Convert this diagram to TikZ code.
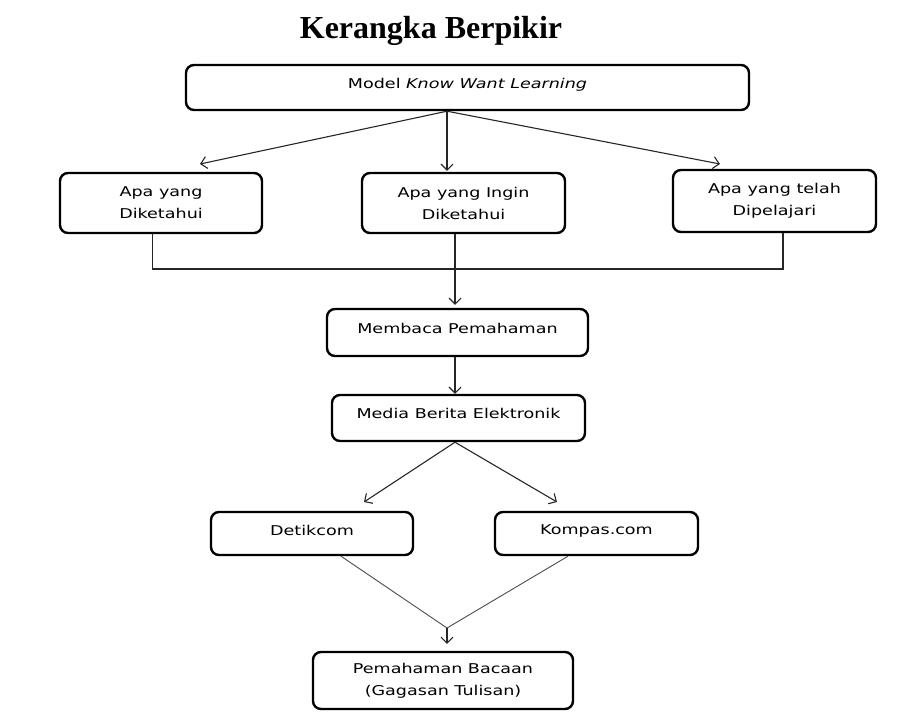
\documentclass[tikz,border=0pt]{standalone}
\usepackage{fontspec}
\setmainfont{Liberation Serif}
\newfontfamily\isifont[FakeStretch=1.3]{DejaVu Sans}
\usetikzlibrary{arrows.meta}
\tikzset{
  kotak/.style={draw, line width=2.4pt, rounded corners=8pt, align=center, inner sep=2pt,
    font=\isifont\fontsize{13.5}{22}\selectfont},
  panah/.style={-{Straight Barb[length=6pt,width=12pt]}, line width=1.1pt, draw=black!85},
  garis/.style={line width=1.1pt, draw=black!85}
}
\begin{document}
\begin{tikzpicture}[x=1pt,y=-1pt]
      \useasboundingbox (0,0) rectangle (923,716);
      \node[font=\bfseries\fontsize{32}{38}\selectfont] (judul) at (431,31){Kerangka Berpikir};

      \node[kotak, minimum width=563, minimum height=45, text depth=8pt] (model) at (467.5,87.5){Model \textit{Know Want Learning}};
      \node[kotak, minimum width=202, minimum height=60] (tahu) at (161,203){Apa yang\\Diketahui};
      \node[kotak, minimum width=203, minimum height=60] (ingin) at (463.5,203){Apa yang Ingin\\Diketahui};
      \node[kotak, minimum width=203, minimum height=62] (telah) at (774.5,201){Apa yang telah\\Dipelajari};
      \node[kotak, minimum width=261, minimum height=47, text depth=8pt] (membaca) at (457.5,332.5){Membaca Pemahaman};
      \node[kotak, minimum width=253, minimum height=46, text depth=10pt] (media) at (458.5,418){Media Berita Elektronik};
      \node[kotak, minimum width=202, minimum height=43, text depth=7pt] (detik) at (312,533.5){Detikcom};
      \node[kotak, minimum width=203, minimum height=43, text depth=7pt] (kompas) at (596.5,533.5){Kompas.com};
      \node[kotak, minimum width=260, minimum height=57] (bacaan) at (443,680.5){Pemahaman Bacaan\\(Gagasan Tulisan)};

      \coordinate (ujungkiri) at (200,164);
      \coordinate (ujungkanan) at (720,164);
      \coordinate (gabung) at (455,269);
      \coordinate (cabangkiri) at (364,502);
      \coordinate (cabangkanan) at (557,502);
      \coordinate (temu) at (447,628);

      \draw[panah] ([xshift=-20.5pt]model.south) -- (ujungkiri);
      \draw[panah, shorten >=1pt] ([xshift=-20.5pt]model.south) -- ([xshift=-16.5pt]ingin.north);
      \draw[panah] ([xshift=-20.5pt]model.south) -- (ujungkanan);

      \draw[garis] ([xshift=-8.5pt]tahu.south) |- (gabung) -| ([xshift=8.5pt]telah.south);
      \draw[panah, shorten >=3pt] ([xshift=-8.5pt]ingin.south) -- ([xshift=-2.5pt]membaca.north);
      \draw[panah] ([xshift=-2.5pt]membaca.south) -- ([xshift=-3.5pt]media.north);

      \draw[panah] ([xshift=-3.5pt]media.south) -- (cabangkiri);
      \draw[panah] ([xshift=-3.5pt]media.south) -- (cabangkanan);

      \draw[garis, draw=black!70, line width=0.9pt] ([xshift=29pt]detik.south) -- (temu) -- ([xshift=-28.5pt]kompas.south);
      \draw[panah, shorten >=7pt] (temu) -- ([xshift=4pt]bacaan.north);
\end{tikzpicture}
\end{document}
